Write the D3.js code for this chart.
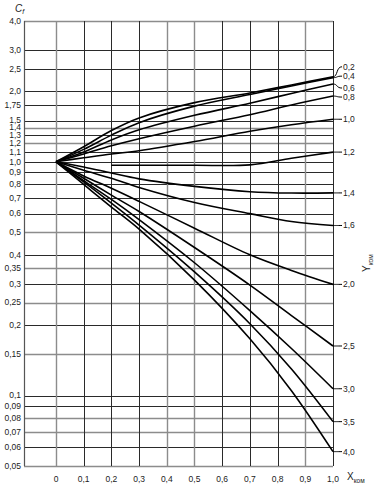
<!DOCTYPE html>
<html>
<head>
<meta charset="utf-8">
<script src="https://cdn.jsdelivr.net/npm/d3@7"></script>
<style>
  body { margin: 0; background: #fff; }
  svg { display: block; font-family: "Liberation Sans", Arial, sans-serif; }
  .tick-label { font-size: 8.5px; fill: #222; }
</style>
</head>
<body>
<div id="chart"></div>
<script>
// Grid / tick values
const xTicks = [0, 0.1, 0.2, 0.3, 0.4, 0.5, 0.6, 0.7, 0.8, 0.9, 1.0];
const yTicks = [4.0, 3.0, 2.5, 2.0, 1.75, 1.5, 1.4, 1.3, 1.2, 1.1, 1.0, 0.9, 0.8, 0.7, 0.6,
  0.5, 0.4, 0.35, 0.3, 0.25, 0.2, 0.15, 0.1, 0.09, 0.08, 0.07, 0.06, 0.05];
const yTickText = ['4,0', '3,0', '2,5', '2,0', '1,75', '1,5', '1,4', '1,3', '1,2', '1,1', '1,0', '0,9', '0,8', '0,7', '0,6',
  '0,5', '0,4', '0,35', '0,3', '0,25', '0,2', '0,15', '0,1', '0,09', '0,08', '0,07', '0,06', '0,05'];

// Curves (one per Y_kom), sampled at xPts; null = curve not drawn there
const xPts = [0, 0.1, 0.2, 0.3, 0.5, 0.7, 0.85, 1.0];
const yKom = ['0,2', '0,4', '0,6', '0,8', '1,0', '1,2', '1,4', '1,6', '2,0', '2,5', '3,0', '3,5', '4,0'];
const cf02 = [1, 1.16, 1.36, 1.54, 1.79, 1.97, 2.13, 2.31];
const cf04 = [1, 1.13, 1.30, 1.47, 1.73, 1.94, 2.11, 2.29];
const cf06 = [1, 1.10, 1.24, 1.37, 1.58, 1.78, 1.96, 2.15];
const cf08 = [1, 1.08, 1.17, 1.255, 1.42, 1.59, 1.75, 1.91];
const cf10 = [1, 1.04, 1.08, 1.115, 1.22, 1.35, 1.44, 1.52];
const cf12 = [null, null, 0.966, 0.966, 0.966, 0.97, 1.035, 1.10];
const cf14 = [1, 0.95, 0.895, 0.845, 0.785, 0.745, 0.735, 0.736];
const cf16 = [1, 0.92, 0.85, 0.777, 0.67, 0.60, 0.555, 0.534];
const cf20 = [1, 0.87, 0.77, 0.677, 0.52, 0.40, 0.343, 0.299];
const cf25 = [1, 0.85, 0.72, 0.613, 0.43, 0.297, 0.22, 0.163];
const cf30 = [1, 0.83, 0.69, 0.566, 0.37, 0.231, 0.159, 0.107];
const cf35 = [1, 0.82, 0.665, 0.536, 0.338, 0.203, 0.13, 0.0774];
const cf40 = [1, 0.80, 0.64, 0.515, 0.312, 0.175, 0.105, 0.0576];
const cfSeries = [cf02, cf04, cf06, cf08, cf10, cf12, cf14, cf16, cf20, cf25, cf30, cf35, cf40];

const width = 377, height = 485;
const svg = d3.select('#chart').append('svg')
  .attr('width', width)
  .attr('height', height);

// Scales: plot frame spans a bit left of x = 0
const x = d3.scaleLinear().domain([-0.1155, 1.0]).range([24, 333]);
const y = d3.scaleLog().domain([0.05, 4]).range([466, 21]);

// lighter (grey) grid lines, like the scanned drawing
const lightX = new Set([0, 0.4, 0.5, 0.9]);
const lightY = new Set([4.0, 1.4, 1.2, 0.5, 0.35, 0.25, 0.15, 0.08, 0.07, 0.05]);

const grid = svg.append('g');
grid.selectAll('.hline')
  .data(yTicks)
  .join('line')
  .attr('x1', x(-0.1155)).attr('x2', x(1.0))
  .attr('y1', d => Math.round(y(d)) + 0.5).attr('y2', d => Math.round(y(d)) + 0.5)
  .attr('stroke', d => lightY.has(d) ? '#8c8c8c' : '#2a2a2a')
  .attr('stroke-width', d => lightY.has(d) ? 1.4 : 1);

grid.selectAll('.vline')
  .data(xTicks)
  .join('line')
  .attr('x1', d => Math.round(x(d)) + 0.5).attr('x2', d => Math.round(x(d)) + 0.5)
  .attr('y1', y(4)).attr('y2', y(0.05))
  .attr('stroke', d => lightX.has(d) ? '#8c8c8c' : '#2a2a2a')
  .attr('stroke-width', d => lightX.has(d) ? 1.4 : 1);

// left border
grid.append('line')
  .attr('x1', x(-0.1155) + 0.5).attr('x2', x(-0.1155) + 0.5)
  .attr('y1', y(4)).attr('y2', y(0.05))
  .attr('stroke', '#555').attr('stroke-width', 1.2);

// Y tick labels
svg.append('g').selectAll('text')
  .data(yTicks)
  .join('text')
  .attr('class', 'tick-label')
  .attr('x', 21)
  .attr('y', d => y(d))
  .attr('dy', '0.33em')
  .attr('text-anchor', 'end')
  .text((d, i) => yTickText[i]);

// X tick labels
svg.append('g').selectAll('text')
  .data(xTicks)
  .join('text')
  .attr('class', 'tick-label')
  .attr('x', d => x(d))
  .attr('y', 482)
  .attr('text-anchor', 'middle')
  .text(d => d === 0 ? '0' : d.toFixed(1).replace('.', ','));

// Curves
const line = d3.line()
  .defined(d => d[1] != null)
  .x(d => x(d[0]))
  .y(d => y(d[1]))
  .curve(d3.curveCatmullRom.alpha(0.5));

svg.append('g').selectAll('path')
  .data(cfSeries)
  .join('path')
  .attr('d', s => line(xPts.map((xv, i) => [xv, s[i]])))
  .attr('fill', 'none')
  .attr('stroke', '#000')
  .attr('stroke-width', 1.6)
  .attr('stroke-linejoin', 'round');

// Right-hand curve labels with leader lines
const labelShift = [-10, -1.5, 4, 1, 0, 0, 0, 0, 0, 0, 0, 0, 0];
const lab = svg.append('g');
cfSeries.forEach((s, i) => {
  const ye = y(s[s.length - 1]);
  const yl = ye + labelShift[i];
  lab.append('path')
    .attr('d', `M${x(1)},${ye} C${x(1) + 5},${ye} ${x(1) + 3},${yl} ${x(1) + 9},${yl}`)
    .attr('fill', 'none')
    .attr('stroke', '#000')
    .attr('stroke-width', 1);
  lab.append('text')
    .attr('class', 'tick-label')
    .attr('x', x(1) + 10)
    .attr('y', yl)
    .attr('dy', '0.35em')
    .text(yKom[i]);
});

// Axis titles
const cf = svg.append('text')
  .attr('x', 15).attr('y', 12)
  .attr('font-size', 10)
  .attr('font-style', 'italic')
  .attr('fill', '#222');
cf.append('tspan').text('C');
cf.append('tspan').attr('font-size', 7).attr('dy', 2).text('f');

const xk = svg.append('text')
  .attr('x', 347).attr('y', 480)
  .attr('font-size', 10)
  .attr('fill', '#222');
xk.append('tspan').text('X');
xk.append('tspan').attr('font-size', 6.5).attr('dy', 2.5).text('ком');

const yk = svg.append('text')
  .attr('transform', 'translate(370,272) rotate(-90)')
  .attr('font-size', 10)
  .attr('fill', '#222');
yk.append('tspan').text('Y');
yk.append('tspan').attr('font-size', 6.5).attr('dy', 3).text('ком');
</script>
</body>
</html>
